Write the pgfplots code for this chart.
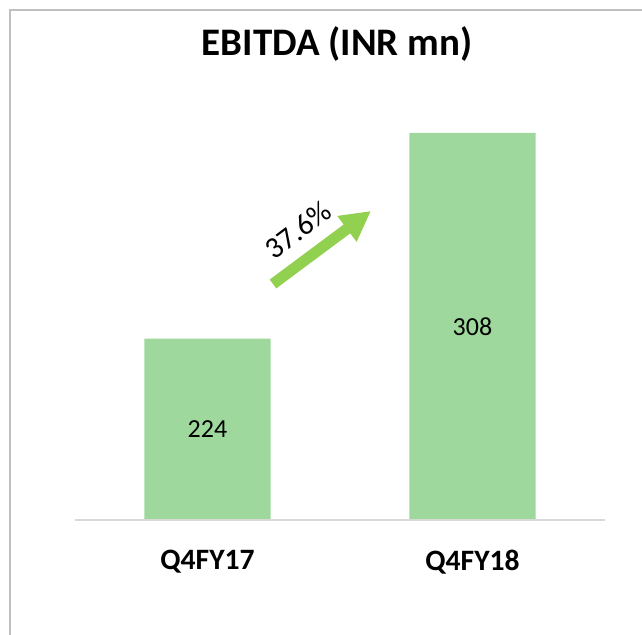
\documentclass[border=0pt]{standalone}
\usepackage{pgfplots}
\pgfplotsset{compat=1.18}
\usepackage{fontspec}
\setmainfont{Carlito}
\usetikzlibrary{arrows.meta}
\definecolor{barg}{RGB}{158,216,156}
\definecolor{arrg}{RGB}{146,208,80}
\definecolor{bord}{RGB}{191,191,191}
\definecolor{basel}{RGB}{217,217,217}
\begin{document}
\begin{tikzpicture}
\useasboundingbox (0,0) rectangle (321pt,317.5pt);
\draw[bord, line width=0.8pt] (5pt,0) -- (5pt,312.5pt) -- (321pt,312.5pt);
\node[font=\fontsize{19.5}{22}\selectfont\bfseries] at (168.5pt,295.5pt) {EBITDA (INR mn)};
\begin{axis}[
  at={(37.5pt,57.5pt)}, anchor=south west,
  scale only axis, width=265pt, height=220.5pt,
  xmin=-0.5, xmax=1.5, ymin=150, ymax=330,
  axis lines=none,
  xtick=data, xticklabels={Q4FY17,Q4FY18},
  ytick=\empty,
  /pgf/number format/assume math mode=true,
  ybar, bar width=0.477, bar shift=0pt,
  visualization depends on=rawy \as \rawy,
  nodes near coords,
  nodes near coords style={anchor=center, font=\fontsize{13}{15}\selectfont, yshift={-0.6125*(\rawy-150)*1pt}},
  clip=false,
]
\addplot[fill=barg, draw=none] coordinates {(0,224) (1,308)};
\draw[basel, line width=1pt] (axis cs:-0.5,150) -- (axis cs:1.5,150);
\node[font=\fontsize{14.8}{18}\selectfont\bfseries] at (axis cs:0,150) [yshift=-21pt] {Q4FY17};
\node[font=\fontsize{14.8}{18}\selectfont\bfseries] at (axis cs:1,150) [yshift=-21pt] {Q4FY18};
\end{axis}
\draw[arrg, line width=5.5pt, -{Triangle[length=15pt,width=15pt]}] (136.5pt,175.5pt) -- (185.5pt,212pt);
\node[rotate=37, font=\fontsize{15}{18}\selectfont] at (149pt,202.5pt) {37.6\%};
\end{tikzpicture}
\end{document}
